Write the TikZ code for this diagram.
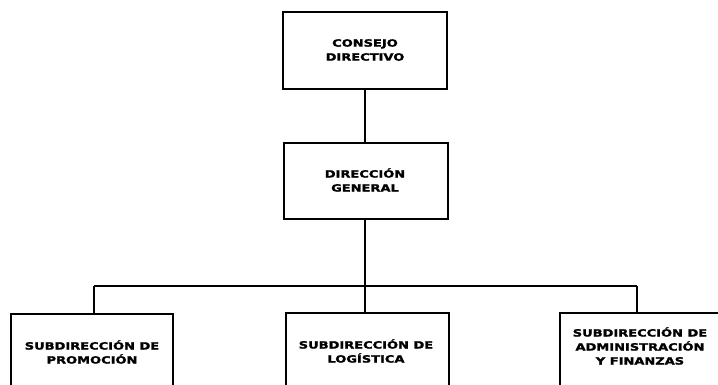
\documentclass[tikz,border=0pt]{standalone}
\usepackage{fontspec}
\setmainfont{DejaVu Sans}
\newfontfamily\orgfont[FakeStretch=1.3,FakeBold=2]{DejaVu Sans}
\begin{document}
\begin{tikzpicture}[x=1pt,y=-1pt,
  orgbox/.style={draw=black,line width=1.8pt,rectangle,inner sep=0pt,anchor=north west},
  orgtext/.style={font=\orgfont\fontsize{10}{14}\selectfont\bfseries,align=center,inner sep=0pt},
  conn/.style={draw=black,line width=1.6pt}]
\useasboundingbox (0,0) rectangle (718,384);
\clip (0,0) rectangle (718,384);
% boxes
\node[orgbox,minimum width=164pt,minimum height=77pt] (cd) at (282,11) {};
\node[orgbox,minimum width=164pt,minimum height=76pt] (dg) at (283,142) {};
\node[orgbox,minimum width=162pt,minimum height=100pt] (sp) at (10,313) {};
\node[orgbox,minimum width=163pt,minimum height=100pt] (sl) at (285,312) {};
\node[orgbox,minimum width=180pt,minimum height=100pt] (sa) at (559,312) {};
% texts
\node[orgtext] (tcd) at (365,50) {CONSEJO\\DIRECTIVO};
\node[orgtext] (tdg) at (365,180) {DIRECCIÓN\\GENERAL};
\node[orgtext] (tsp) at (92,352) {SUBDIRECCIÓN DE\\PROMOCIÓN};
\node[orgtext] (tsl) at (366,351) {SUBDIRECCIÓN DE\\LOGÍSTICA};
\node[orgtext] (tsa) at (640,346) {SUBDIRECCIÓN DE\\ADMINISTRACIÓN\\Y FINANZAS};
% connectors
\coordinate (bus) at (365,286);
\coordinate (busl) at (94,286);
\coordinate (busr) at (637,286);
\draw[conn] (cd.south -| 365,0) -- (dg.north -| 365,0);
\draw[conn] (dg.south -| 365,0) -- (bus);
\draw[conn] (busl) -- (busr);
\draw[conn] (busl) -- (busl |- sp.north);
\draw[conn] (bus) -- (bus |- sl.north);
\draw[conn] (busr) -- (busr |- sa.north);
\end{tikzpicture}
\end{document}
